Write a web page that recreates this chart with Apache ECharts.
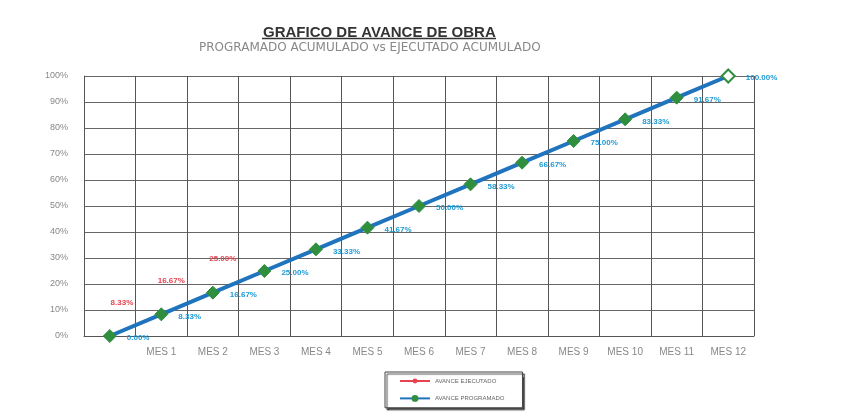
<!DOCTYPE html>
<html>
<head>
<meta charset="utf-8">
<title>Grafico de avance de obra</title>
<script src="https://cdn.jsdelivr.net/npm/echarts@6/dist/echarts.min.js"></script>
<style>
    html, body { margin: 0; padding: 0; background: #fff; }
    #avance { width: 846px; height: 412px; }
</style>
</head>
<body>
<div id="avance"></div>
<script>
// datos del grafico
var meses = ['', 'MES 1', 'MES 2', 'MES 3', 'MES 4', 'MES 5', 'MES 6', 'MES 7', 'MES 8', 'MES 9', 'MES 10', 'MES 11', 'MES 12'];
var ejecutado = [0, 8.33, 16.67, 25.00];
var programado = [0, 8.33, 16.67, 25.00, 33.33, 41.67, 50.00, 58.33, 66.67, 75.00, 83.33, 91.67, 100.00];
var ejeY = [0, 10, 20, 30, 40, 50, 60, 70, 80, 90, 100];

var myChart = echarts.init(document.getElementById('avance'));

var option = {
    backgroundColor: '#fff',
    textStyle: { fontFamily: 'Liberation Sans, Arial, sans-serif' },
    title: [
        {
            text: 'GRAFICO DE AVANCE DE OBRA',
            left: 258,
            top: 20,
            textStyle: { fontSize: 15, fontWeight: 'bold', color: '#333' }
        },
        {
            text: 'PROGRAMADO ACUMULADO vs EJECUTADO ACUMULADO',
            left: 194,
            top: 37,
            textStyle: { fontSize: 12, fontWeight: 'normal', color: '#888', fontFamily: 'DejaVu Sans' }
        }
    ],
    // subrayado del titulo
    graphic: [
        { type: 'line', shape: { x1: 262, y1: 38.5, x2: 496, y2: 38.5 }, style: { stroke: '#333', lineWidth: 1.3 } }
    ],
    legend: {
        orient: 'vertical',
        left: 385,
        top: 372,
        itemWidth: 30,
        itemHeight: 6,
        itemGap: 11,
        padding: [6, 18, 6, 14],
        borderColor: '#444',
        borderWidth: 1,
        backgroundColor: '#fff',
        shadowColor: 'rgba(0,0,0,0.7)',
        shadowOffsetX: 2,
        shadowOffsetY: 2,
        shadowBlur: 1,
        textStyle: { fontSize: 6, color: '#666' },
        data: ['AVANCE EJECUTADO', 'AVANCE PROGRAMADO']
    },
    grid: {
        left: 84,
        right: 92,
        top: 76,
        bottom: 76
    },
    xAxis: {
        type: 'category',
        data: meses,
        boundaryGap: true,
        axisLine: { lineStyle: { color: '#555' } },
        axisTick: { show: false },
        axisLabel: { color: '#888', fontSize: 10, margin: 11 },
        splitLine: { show: true, interval: 0, lineStyle: { color: '#555', width: 1 } }
    },
    yAxis: {
        type: 'value',
        min: 0,
        max: 100,
        interval: 10,
        axisLine: { show: true, lineStyle: { color: '#555' } },
        axisTick: { show: false },
        axisLabel: {
            color: '#888',
            fontSize: 9,
            margin: 16,
            formatter: function (v) { return ejeY.indexOf(v) >= 0 ? v + '%' : ''; }
        },
        splitLine: { lineStyle: { color: '#666', width: 1 } }
    },
    series: [
        {
            name: 'AVANCE EJECUTADO',
            type: 'line',
            data: ejecutado,
            color: '#e8434f',
            symbol: 'circle',
            symbolSize: 2,
            showAllSymbol: true,
            lineStyle: { width: 2, color: '#e8434f' },
            label: {
                show: true,
                position: 'left',
                offset: [-22, -12],
                color: '#e8434f',
                fontSize: 8,
                fontWeight: 'bold',
                formatter: function (p) { return p.dataIndex === 0 ? '' : p.value.toFixed(2) + '%'; }
            },
            z: 2
        },
        {
            name: 'AVANCE PROGRAMADO',
            type: 'line',
            data: programado,
            color: '#1f74bd',
            symbol: function (v, p) { return p.dataIndex === programado.length - 1 ? 'emptyDiamond' : 'diamond'; },
            symbolSize: 13,
            itemStyle: { color: '#2f8f3f', borderColor: '#2f8f3f', borderWidth: 1 },
            lineStyle: { width: 4, color: '#1f74bd' },
            label: {
                show: true,
                position: 'right',
                distance: 6,
                offset: [4, 2],
                color: '#1e9ad6',
                fontSize: 8,
                fontWeight: 'bold',
                formatter: function (p) { return p.value.toFixed(2) + '%'; }
            },
            z: 3
        }
    ]
};

myChart.setOption(option);
</script>
</body>
</html>
